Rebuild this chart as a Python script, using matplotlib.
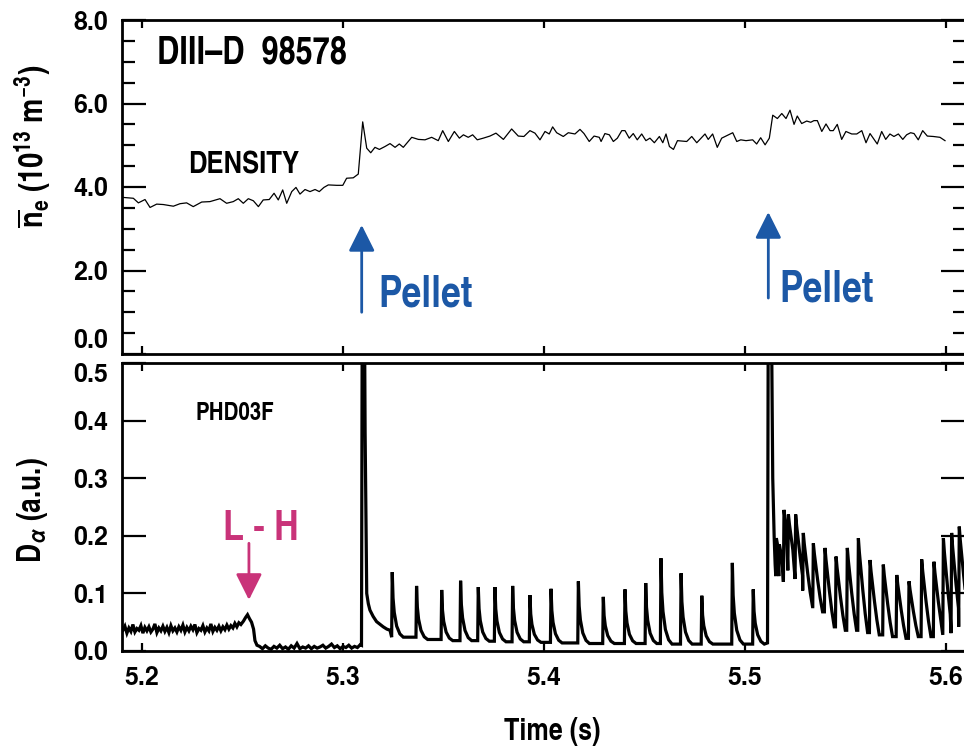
import numpy as np
import matplotlib
matplotlib.use("Agg")
import matplotlib.pyplot as plt
from matplotlib import font_manager as fm

# ---------------- data ----------------
dens_t = [5.1907, 5.1957, 5.1982, 5.2015, 5.2040, 5.2073, 5.2106, 5.2156, 5.2189, 5.2222,
          5.2255, 5.2297, 5.2338, 5.2388, 5.2421, 5.2454, 5.2479, 5.2504, 5.2529, 5.2554,
          5.2579, 5.2603, 5.2633, 5.2657, 5.2678, 5.2700, 5.2720, 5.2745, 5.2766, 5.2786,
          5.2811, 5.2836, 5.2861, 5.2882, 5.2905, 5.2927, 5.2969, 5.2999, 5.3018, 5.3051,
          5.3076, 5.3098, 5.3118, 5.3138, 5.3159, 5.3181, 5.3209, 5.3234, 5.3259, 5.3280,
          5.3300, 5.3342, 5.3375, 5.3408, 5.3441, 5.3474, 5.3496, 5.3524, 5.3554, 5.3579,
          5.3599, 5.3623, 5.3645, 5.3668, 5.3698, 5.3731, 5.3761, 5.3798, 5.3839, 5.3872,
          5.3900, 5.3930, 5.3955, 5.3980, 5.4005, 5.4026,
          5.4043, 5.4063, 5.4096, 5.4121, 5.4154, 5.4179, 5.4199, 5.4225, 5.4249, 5.4275,
          5.4284, 5.4303, 5.4325, 5.4345, 5.4365, 5.4387, 5.4403, 5.4424, 5.4444, 5.4464,
          5.4486, 5.4507, 5.4527, 5.4549, 5.4574, 5.4591, 5.4607, 5.4624, 5.4644, 5.4664,
          5.4710, 5.4735, 5.4760, 5.4801, 5.4817, 5.4839, 5.4862, 5.4884, 5.4939, 5.4959,
          5.4979, 5.5005, 5.5038, 5.5058, 5.5078, 5.5100, 5.5121, 5.5138, 5.5161, 5.5183,
          5.5204, 5.5224, 5.5244, 5.5260, 5.5282, 5.5307, 5.5327, 5.5343, 5.5360, 5.5382,
          5.5403, 5.5423, 5.5439, 5.5459, 5.5481, 5.5502, 5.5531, 5.5556, 5.5581, 5.5602,
          5.5622, 5.5658, 5.5680, 5.5700, 5.5721, 5.5741, 5.5763, 5.5785, 5.5804, 5.5824,
          5.5841, 5.5862, 5.5884, 5.5907, 5.5937, 5.5970, 5.5995]
dens_v = [3.75, 3.73, 3.62, 3.70, 3.51, 3.59, 3.58, 3.54, 3.60, 3.62,
          3.53, 3.64, 3.65, 3.72, 3.61, 3.65, 3.72, 3.61, 3.72, 3.67,
          3.53, 3.69, 3.70, 3.85, 3.69, 3.93, 3.61, 3.89, 3.99, 3.83,
          3.94, 3.89, 3.94, 3.89, 3.99, 4.05, 4.04, 4.04, 4.21, 4.22,
          4.31, 5.56, 4.93, 4.82, 4.95, 4.90, 4.97, 5.04, 4.95, 5.03,
          4.95, 5.19, 5.14, 5.13, 5.19, 5.11, 5.35, 5.09, 5.33, 5.17,
          5.25, 5.19, 5.25, 5.13, 5.17, 5.22, 5.29, 5.14, 5.39, 5.22,
          5.21, 5.35, 5.29, 5.13, 5.33, 5.27,
          5.44, 5.30, 5.21, 5.30, 5.27, 5.38, 5.28, 5.09, 5.22, 5.19,
          5.09, 5.28, 5.25, 5.09, 5.17, 5.35, 5.35, 5.17, 5.28, 5.13,
          5.27, 5.11, 5.17, 5.06, 5.21, 5.06, 5.27, 4.97, 4.90, 5.11,
          5.09, 5.21, 5.06, 5.27, 5.14, 5.27, 4.95, 5.17, 5.30, 5.09,
          5.13, 5.11, 5.13, 5.03, 5.18, 5.01, 5.17, 5.72, 5.64, 5.76,
          5.64, 5.84, 5.50, 5.70, 5.52, 5.58, 5.55, 5.59, 5.59, 5.33,
          5.51, 5.35, 5.35, 5.50, 5.14, 5.33, 5.27, 5.27, 5.35, 5.06,
          5.28, 5.03, 5.33, 5.14, 5.27, 5.21, 5.27, 5.14, 5.25, 5.30,
          5.28, 5.13, 5.35, 5.22, 5.21, 5.19, 5.11]

# D-alpha: L-mode phase (uniform samples), L-H transition, quiet H-mode
lmode_v = [0.036, 0.043, 0.031, 0.040, 0.034, 0.046, 0.033, 0.039, 0.036, 0.044,
           0.031, 0.041, 0.035, 0.042, 0.033, 0.038, 0.047, 0.032, 0.040, 0.035,
           0.043, 0.034, 0.041, 0.032, 0.044, 0.035, 0.040, 0.033, 0.042, 0.036,
           0.045, 0.033, 0.041, 0.035, 0.043, 0.037, 0.046, 0.032, 0.039, 0.036,
           0.044, 0.033, 0.040, 0.035, 0.047, 0.034, 0.041, 0.036, 0.043, 0.035,
           0.042, 0.037, 0.045, 0.038, 0.044, 0.040, 0.048, 0.042, 0.049, 0.046]
lmode_span = (5.1905, 5.2492)
lh_t = [5.2505, 5.2515, 5.2525, 5.2535, 5.2545, 5.2555, 5.2562, 5.2572]
lh_v = [0.052, 0.058, 0.063, 0.056, 0.050, 0.038, 0.018, 0.010]
quiet_v = [0.008, 0.004, 0.009, 0.005, 0.003, 0.008, 0.005, 0.010, 0.004, 0.007,
           0.003, 0.009, 0.005, 0.013, 0.004, 0.007, 0.005, 0.009, 0.004, 0.008,
           0.005, 0.007, 0.010, 0.005, 0.008, 0.012, 0.006, 0.009, 0.004, 0.008,
           0.006, 0.010, 0.005, 0.008, 0.006, 0.011]
quiet_span = (5.2585, 5.3086)

# pellet 1 spike and decay
p1_t = [5.3092, 5.3096, 5.3106, 5.3110, 5.3118, 5.3126, 5.3134, 5.3150, 5.3167,
        5.3185, 5.3200, 5.3218, 5.3234]
p1_v = [0.010, 0.650, 0.650, 0.380, 0.100, 0.082, 0.071, 0.060, 0.051,
        0.046, 0.042, 0.038, 0.036]
# ELMs between pellets
elm1_t = [5.3245, 5.3366, 5.3491, 5.3585, 5.3673, 5.3756, 5.3844, 5.3930, 5.4035,
          5.4171, 5.4295, 5.4403, 5.4506, 5.4582, 5.4682, 5.4785, 5.4937, 5.5041]
elm1_peak = [0.137, 0.113, 0.106, 0.122, 0.111, 0.111, 0.113, 0.097, 0.108,
             0.121, 0.094, 0.107, 0.118, 0.161, 0.135, 0.096, 0.153, 0.107]
elm1_floor = [0.024, 0.020, 0.018, 0.018, 0.017, 0.016, 0.016, 0.015, 0.014,
              0.013, 0.013, 0.013, 0.013, 0.012, 0.012, 0.012, 0.012, 0.012]
# pellet 2 spike
p2_t = [5.5112, 5.5116, 5.5130, 5.5138, 5.5145, 5.5150]
p2_v = [0.014, 0.650, 0.650, 0.300, 0.199, 0.150]
# ELMs after pellet 2
elm2_t = [5.5156, 5.5171, 5.5194, 5.5216, 5.5252, 5.5290, 5.5340, 5.5398, 5.5453,
          5.5509, 5.5564, 5.5622, 5.5688, 5.5755, 5.5816, 5.5879, 5.5940, 5.5987,
          5.6028, 5.6066]
elm2_peak = [0.196, 0.185, 0.245, 0.237, 0.237, 0.205, 0.187, 0.179, 0.164,
             0.179, 0.196, 0.158, 0.150, 0.132, 0.121, 0.159, 0.155, 0.196,
             0.205, 0.216]
elm2_floor = [0.130, 0.120, 0.140, 0.125, 0.105, 0.077, 0.068, 0.042, 0.036,
              0.036, 0.032, 0.028, 0.025, 0.022, 0.025, 0.025, 0.028, 0.031,
              0.042, 0.060]

x_ticks = [5.2, 5.3, 5.4, 5.5, 5.6]
x_ticklabels = ["5.2", "5.3", "5.4", "5.5", "5.6"]
ne_ticks = [0.0, 2.0, 4.0, 6.0, 8.0]
ne_ticklabels = ["0.0", "2.0", "4.0", "6.0", "8.0"]
da_ticks = [0.0, 0.1, 0.2, 0.3, 0.4, 0.5]
da_ticklabels = ["0.0", "0.1", "0.2", "0.3", "0.4", "0.5"]

# ---------------- fonts ----------------
avail = {f.name for f in fm.fontManager.ttflist}
NARROW = [f for f in ["TeX Gyre Heros Cn", "Liberation Sans Narrow", "Roboto Condensed",
                      "Liberation Sans", "DejaVu Sans"] if f in avail]
REG = [f for f in ["TeX Gyre Heros", "Liberation Sans", "DejaVu Sans"] if f in avail]
plt.rcParams["font.family"] = REG
plt.rcParams["font.weight"] = "bold"
plt.rcParams["mathtext.fontset"] = "custom"
plt.rcParams["mathtext.rm"] = NARROW[0] + ":bold"
plt.rcParams["mathtext.bf"] = NARROW[0] + ":bold"
plt.rcParams["mathtext.it"] = NARROW[0] + ":bold:italic"
plt.rcParams["mathtext.sf"] = NARROW[0] + ":bold"

BLUE = "#1c58a6"
MAGENTA = "#c93379"


def elm_trace(times, peaks, floors, offs, fracs):
    ts, vs = [], []
    n = len(times)
    for i in range(n):
        prev_floor = floors[i - 1] if i > 0 else floors[i]
        t0, p, f = times[i], peaks[i], floors[i]
        ts += [t0 - 0.0003, t0]
        vs += [prev_floor, p]
        t_next = times[i + 1] - 0.0003 if i + 1 < n else 9.9
        for o, fr in zip(offs, fracs):
            if t0 + o < t_next:
                ts.append(t0 + o)
                vs.append(f + fr * (p - f))
    return ts, vs


lm_t = np.linspace(lmode_span[0], lmode_span[1], len(lmode_v))
qt_t = np.linspace(quiet_span[0], quiet_span[1], len(quiet_v))
e1_t, e1_v = elm_trace(elm1_t, elm1_peak, elm1_floor,
                       [0.0004, 0.0010, 0.0022, 0.0038, 0.0055],
                       [0.60, 0.38, 0.17, 0.05, 0.0])
e2_t, e2_v = elm_trace(elm2_t, elm2_peak, elm2_floor,
                       [0.0005, 0.0012, 0.0022, 0.0034, 0.0046],
                       [0.85, 0.68, 0.45, 0.20, 0.0])
da_t = list(lm_t) + lh_t + list(qt_t) + p1_t + e1_t + p2_t + e2_t
da_v = list(lmode_v) + lh_v + quiet_v + p1_v + e1_v + p2_v + e2_v

# ---------------- figure ----------------
W, H = 964, 749
fig = plt.figure(figsize=(W / 100, H / 100), dpi=100)
L = 122 / W
Wd = 843 / W
ax1 = fig.add_axes([L, (H - 354) / H, Wd, (354 - 20) / H])
ax2 = fig.add_axes([L, (H - 651) / H, Wd, (651 - 363) / H])
XL = (5.19005, 5.60945)

n = min(len(dens_t), len(dens_v))
ax1.plot(dens_t[:n], dens_v[:n], color="black", lw=0.9)
ax2.plot(da_t, da_v, color="black", lw=2.3, solid_joinstyle="miter")

for ax in (ax1, ax2):
    ax.set_xlim(*XL)
    for s in ax.spines.values():
        s.set_linewidth(2.0)
    ax.set_xticks(x_ticks)
    ax.tick_params(axis="x", which="major", direction="in", length=6, width=1.6,
                   top=True, bottom=True)
    ax.tick_params(axis="y", which="both", direction="in", width=1.6,
                   left=True, right=True, pad=10, labelsize=18)

ax1.set_ylim(0, 8.0)
ax1.set_yticks(ne_ticks)
ax1.set_yticklabels(ne_ticklabels, fontsize=18, fontweight="bold")
ax1.set_yticks(np.arange(0, 8.01, 0.5), minor=True)
ax1.tick_params(axis="y", which="major", length=17)
ax1.tick_params(axis="y", which="minor", length=9)
ax1.tick_params(axis="x", labelbottom=False)
ax1.yaxis.get_major_ticks()[0].label1.set_va("bottom")

ax2.set_ylim(0, 0.5)
ax2.set_yticks(da_ticks)
ax2.set_yticklabels(da_ticklabels, fontsize=18, fontweight="bold")
ax2.tick_params(axis="y", which="major", length=17)
ax2.set_xticklabels(x_ticklabels, fontsize=18, fontweight="bold")
ax2.tick_params(axis="x", pad=11)
ax2.yaxis.get_major_ticks()[-1].label1.set_va("top")

# texts, top panel
ax1.text(5.2075, 6.96, "DIII\u2013D  98578", fontsize=27, fontweight="bold",
         family=NARROW, va="baseline")
ax1.text(5.2230, 4.33, "DENSITY", fontsize=22.5, fontweight="bold",
         family=NARROW, va="baseline")
ax1.text(5.3175, 1.13, "Pellet", fontsize=31, fontweight="bold",
         family=NARROW, va="baseline", color=BLUE)
ax1.text(5.5170, 1.25, "Pellet", fontsize=31, fontweight="bold",
         family=NARROW, va="baseline", color=BLUE)
arrow_kw = dict(arrowstyle="-|>,head_length=0.8,head_width=0.4", lw=2.0,
                mutation_scale=20, shrinkA=0, shrinkB=0)
ax1.annotate("", xy=(5.3093, 3.09), xytext=(5.3093, 1.0),
             arrowprops=dict(color=BLUE, **arrow_kw))
ax1.annotate("", xy=(5.5116, 3.40), xytext=(5.5116, 1.34),
             arrowprops=dict(color=BLUE, **arrow_kw))

# texts, bottom panel
ax2.text(5.2264, 0.4005, "PHD03F", fontsize=18, fontweight="bold",
         family=NARROW, va="baseline")
ax2.text(5.2405, 0.193, "L - H", fontsize=30, fontweight="bold",
         family=NARROW, va="baseline", color=MAGENTA)
ax2.annotate("", xy=(5.2532, 0.0887), xytext=(5.2532, 0.187),
             arrowprops=dict(color=MAGENTA, **arrow_kw))

# axis labels
fig.text(33 / W, 1 - 146 / H,
         r"$\overline{\mathrm{n}}_{\mathrm{e}}$ (10$^{\mathrm{13}}$ m$^{\mathrm{-3}}$)",
         rotation=90, ha="center", va="center", fontsize=24, fontweight="bold",
         family=NARROW)
fig.text(33 / W, 1 - 510 / H, r"D$_{\alpha}$ (a.u.)",
         rotation=90, ha="center", va="center", fontsize=23, fontweight="bold",
         family=NARROW)
fig.text(552 / W, 1 - 740 / H, "Time (s)", ha="center", va="baseline",
         fontsize=22, fontweight="bold", family=NARROW)

fig.savefig("out.png", dpi=100)
